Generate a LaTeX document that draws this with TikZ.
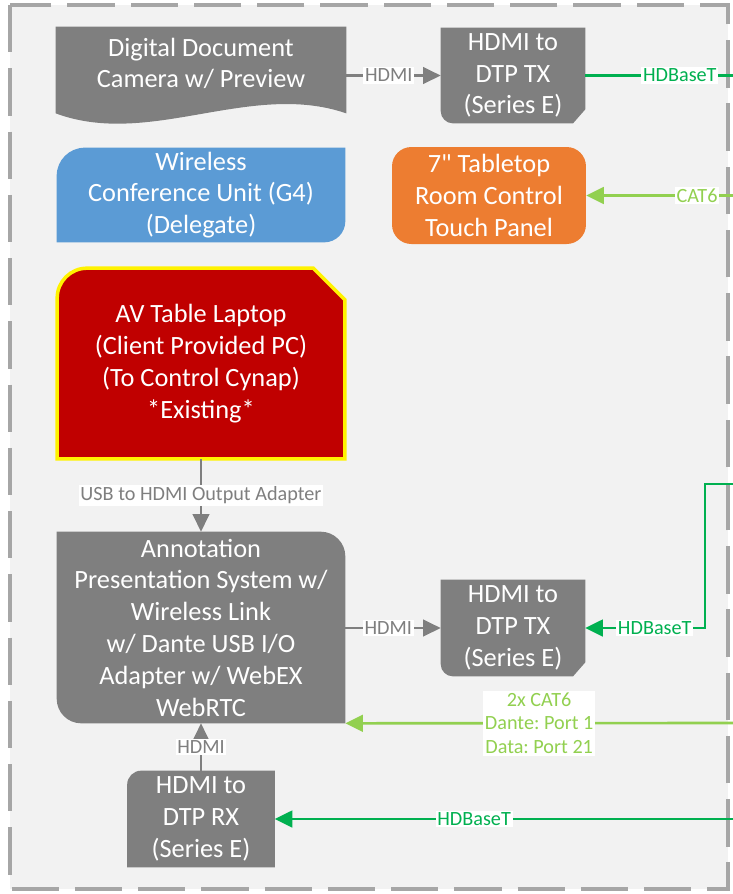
\documentclass[tikz,border=0pt]{standalone}
\usepackage{fontspec}
\setmainfont{Carlito}[Ligatures=TeXOff]
\usepackage{tikz}
\usetikzlibrary{arrows.meta}
\usetikzlibrary{calc}
\usetikzlibrary{backgrounds}
\definecolor{boxgray}{HTML}{7F7F7F}
\definecolor{wcublue}{HTML}{5B9BD5}
\definecolor{tporange}{HTML}{ED7D31}
\definecolor{lapred}{HTML}{C00000}
\definecolor{hdbgreen}{HTML}{00B050}
\definecolor{catgreen}{HTML}{92D050}
\definecolor{panelbg}{HTML}{F2F2F2}
\definecolor{dashgray}{HTML}{A6A6A6}
\frenchspacing

\begin{document}
\begin{tikzpicture}[x=0.02cm, y=0.02cm,
  box/.style={inner sep=0pt, align=center, text=white, font=\fontsize{15}{18.1}\selectfont},
  lbl/.style={fill=white, inner sep=1pt, font=\fontsize{11.5}{13.6}\selectfont},
  tip/.style={-{Triangle[length=10pt,width=9.5pt]}},
  hdmi/.style={boxgray, line width=1.2pt},
  hdbt/.style={hdbgreen, line width=1.5pt},
  cat/.style={catgreen, line width=1.5pt}]

\useasboundingbox (0,0) rectangle (733,-894);

\node[box, minimum width=5.8cm, minimum height=1.72cm] (cam) at (201,-70) {};
\node[box] (camtxt) at ([yshift=3.7pt]cam.center) {Digital Document\\Camera w/ Preview};

\node[box, minimum width=2.88cm, minimum height=1.9cm] (tx1) at (513,-75.5) {HDMI to\\DTP TX\\(Series E)};

\node[box, minimum width=5.76cm, minimum height=1.88cm] (wcu) at (201,-195) {Wireless\\Conference Unit (G4)\\(Delegate)};

\node[box, fill=tporange, rounded corners=11pt, minimum width=3.88cm, minimum height=1.94cm] (tp) at (489,-195.5) {7" Tabletop\\Room Control\\Touch Panel};

\node[box, minimum width=5.74cm, minimum height=3.8cm] (lap) at (201,-363.5) {AV Table Laptop\\(Client Provided PC)\\(To Control Cynap)\\*Existing*};

\node[box, minimum width=5.76cm, minimum height=3.82cm] (aps) at (201,-627.5) {Annotation\\Presentation System w/\\Wireless Link\\w/ Dante USB I/O\\Adapter w/ WebEX\\WebRTC};

\node[box, minimum width=2.88cm, minimum height=1.92cm] (tx2) at (513,-628) {HDMI to\\DTP TX\\(Series E)};

\node[box, minimum width=2.94cm, minimum height=1.92cm] (rx) at (201,-819) {HDMI to\\DTP RX\\(Series E)};

\begin{pgfonlayer}{background}
\fill[panelbg] (10,-5) rectangle (728,-889);
\draw[dashgray, line width=2.4pt, dash pattern=on 27pt off 9pt] (10,-5) rectangle (728,-889);

% camera with wavy bottom
\fill[boxgray] (cam.south west) -- (cam.north west) -- (cam.north east) -- (cam.south east)
  .. controls ($(cam.south east)+(-96,33)$) and ($(cam.south west)+(94,-35)$) .. (cam.south west) -- cycle;

\fill[boxgray] (tx1.north west) -- (tx1.north east) -- ([yshift=8pt]tx1.south east) -- ([xshift=-7pt]tx1.south east)
  -- ([xshift=7pt]tx1.south west) arc[start angle=-90, end angle=-180, radius=7pt] -- cycle;

\fill[wcublue] ([yshift=-16pt]wcu.north west) arc[start angle=180, end angle=90, radius=16pt] -- (wcu.north east)
  -- ([yshift=12pt]wcu.south east) arc[start angle=0, end angle=-90, radius=12pt] -- (wcu.south west) -- cycle;

\filldraw[fill=lapred, draw=yellow, line width=2pt] ([yshift=-17pt]lap.north west) arc[start angle=180, end angle=90, radius=17pt]
  -- ([xshift=-18pt]lap.north east) -- ([yshift=-18pt]lap.north east) -- (lap.south east) -- (lap.south west) -- cycle;

\fill[boxgray] (aps.north west) -- ([xshift=-14pt]aps.north east) arc[start angle=90, end angle=0, radius=14pt]
  -- (aps.south east) -- ([xshift=14pt]aps.south west) arc[start angle=-90, end angle=-180, radius=14pt] -- cycle;

\fill[boxgray] (tx2.north west) -- (tx2.north east) -- ([yshift=8pt]tx2.south east) -- ([xshift=-7pt]tx2.south east)
  -- ([xshift=7pt]tx2.south west) arc[start angle=-90, end angle=-180, radius=7pt] -- cycle;

\fill[boxgray] ([yshift=-8pt]rx.north west) arc[start angle=180, end angle=90, radius=8pt] -- (rx.north east)
  -- (rx.south east) -- (rx.south west) -- cycle;
\end{pgfonlayer}

% free ends at the right edge
\coordinate (e1) at (733,-75.5);
\coordinate (e2) at (733,-195.5);
\coordinate (e3) at (733,-484);
\coordinate (bend) at (705,-484);
\coordinate (e4) at (733,-723);
\coordinate (e5) at (733,-819);

\draw[hdmi, tip] (cam.east |- tx1.west) -- node[lbl, text=boxgray, pos=0.45] (l1) {HDMI} (tx1.west);
\draw[hdbt] (tx1.east) -- node[lbl, text=hdbgreen, pos=0.64] (l2) {HDBaseT} (e1);
\draw[cat, tip] (e2) -- node[lbl, text=catgreen, pos=0.245] (l3) {CAT6} (tp.east);
\draw[hdmi, tip] (lap.south) -- node[lbl, text=boxgray] (l4) {USB to HDMI Output Adapter} (aps.north);
\draw[hdmi, tip] (aps.east |- tx2.west) -- node[lbl, text=boxgray, pos=0.45] (l5) {HDMI} (tx2.west);
\draw[hdbt, tip] (e3) -- (bend) -- (bend |- tx2.east) -- node[lbl, text=hdbgreen, pos=0.42] (l6) {HDBaseT} (tx2.east);
\draw[cat, tip] (e4) -- node[lbl, text=catgreen, align=center] (l7) {2x CAT6\\Dante: Port 1\\Data: Port 21} (aps.south east);
\draw[hdmi, tip] (rx.north) -- node[lbl, text=boxgray] (l8) {HDMI} (aps.south);
\draw[hdbt, tip] (e5) -- node[lbl, text=hdbgreen, pos=0.565] (l9) {HDBaseT} (rx.east);

\end{tikzpicture}
\end{document}
